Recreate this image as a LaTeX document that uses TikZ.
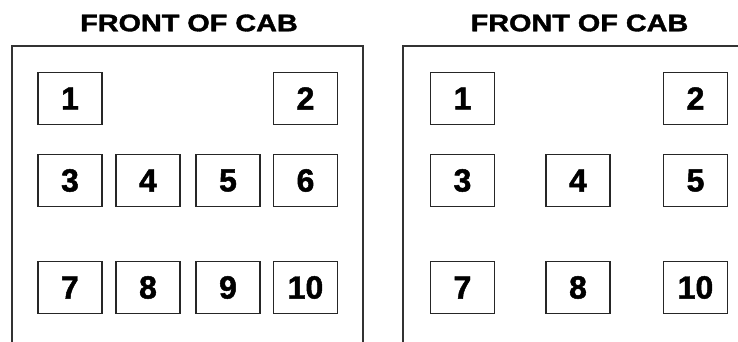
\documentclass[tikz,border=0pt]{standalone}
\usepackage{fontspec}
\setmainfont{Liberation Sans}
\newfontfamily\heavyfont[FakeBold=1.5]{Liberation Sans Bold}
\usetikzlibrary{positioning}

\tikzset{
  fusebox/.style={draw=black!85, line width=1.8pt, minimum width=64pt, minimum height=52pt,
    inner sep=0pt, font=\heavyfont\fontsize{32}{32}\selectfont},
  cabtitle/.style={font=\heavyfont\fontsize{24}{24}\selectfont, inner sep=0pt},
  frame/.style={draw=black!80, line width=1.8pt}
}

\begin{document}
\begin{tikzpicture}[x=1pt, y=-1pt]
  \useasboundingbox (0,0) rectangle (738,342);
  % left layout
  \node[cabtitle] (ltitle) at (189,23) {\scalebox{1.2}[1]{FRONT OF CAB}};
  \draw[frame] (12,342) |- (363,46) -- (363,342);
  \foreach \n/\x/\y in {1/70/98.5, 2/305.5/98.5,
      3/70/180.5, 4/148/180.5, 5/228/180.5, 6/305.5/180.5,
      7/70/287.5, 8/148/287.5, 9/228/287.5, 10/305.5/287.5}
    \node[fusebox] (l\n) at (\x,\y) {\n};
  % right layout
  \node[cabtitle] (rtitle) at (579.5,23) {\scalebox{1.2}[1]{FRONT OF CAB}};
  \draw[frame] (403,342) |- (738,46);
  \foreach \n/\x/\y in {1/462.5/98.5, 2/695.5/98.5,
      3/462.5/180.5, 4/578/180.5, 5/695.5/180.5,
      7/462.5/287.5, 8/578/287.5, 10/695.5/287.5}
    \node[fusebox] (r\n) at (\x,\y) {\n};
\end{tikzpicture}
\end{document}
